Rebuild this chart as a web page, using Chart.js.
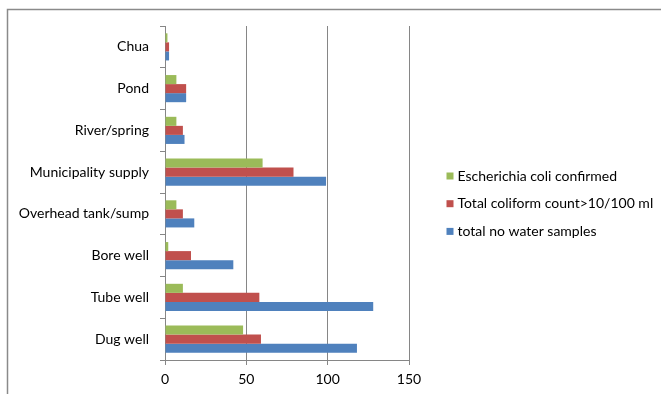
<!DOCTYPE html>
<html>
<head>
<meta charset="utf-8">
<script src="https://cdn.jsdelivr.net/npm/chart.js@4/dist/chart.umd.min.js"></script>
<style>
  html, body { margin: 0; padding: 0; background: #fff; }
  #wrap { width: 661px; height: 394px; position: relative; }
</style>
</head>
<body>
<div id="wrap"><canvas id="c" width="661" height="394"></canvas></div>
<script>
// Water sources sampled (top to bottom)
const sources = ['Chua', 'Pond', 'River/spring', 'Municipality supply',
  'Overhead tank/sump', 'Bore well', 'Tube well', 'Dug well'];

// Samples per source
const ecoliConfirmed = [1.5, 7, 7, 60, 7, 2, 11, 48];
const coliformOver10 = [2.5, 13, 11, 79, 11, 16, 58, 59];
const totalSamples   = [2.5, 13, 12, 99, 18, 42, 128, 118];

const seriesNames = ['Escherichia coli confirmed', 'Total coliform count>10/100 ml', 'total no water samples'];
const seriesColors = ['#9BBB59', '#C0504D', '#4F81BD'];

const xTicks = [0, 50, 100, 150];

const FONT = 'Lato, "Open Sans", sans-serif';
const FONT_SIZE = 14;
const axisGray = '#868686';

// Frame lines around the chart
const framePlugin = {
  id: 'frame',
  beforeDraw(chart) {
    const ctx = chart.ctx;
    ctx.save();
    ctx.strokeStyle = '#8a8a8a';
    ctx.lineWidth = 1.5;
    ctx.beginPath();
    ctx.moveTo(7.5, 394);
    ctx.lineTo(7.5, 9.5);
    ctx.lineTo(661, 9.5);
    ctx.stroke();
    ctx.restore();
  }
};

// Vertical legend to the right of the plot, squares before each label
const sideLegend = {
  id: 'sideLegend',
  afterDraw(chart) {
    const ctx = chart.ctx;
    const x = 446.5, y0 = 176, step = 27.7, box = 7;
    ctx.save();
    ctx.font = FONT_SIZE + 'px ' + FONT;
    ctx.textBaseline = 'middle';
    ctx.textAlign = 'left';
    chart.data.datasets.forEach((ds, i) => {
      const y = y0 + i * step;
      ctx.fillStyle = ds.backgroundColor;
      ctx.fillRect(x, y - box / 2, box, box);
      ctx.fillStyle = '#000';
      ctx.fillText(ds.label, x + 11, y);
    });
    ctx.restore();
  }
};

new Chart(document.getElementById('c'), {
  type: 'bar',
  data: {
    labels: sources,
    datasets: [
      { label: seriesNames[0], data: ecoliConfirmed, backgroundColor: seriesColors[0] },
      { label: seriesNames[1], data: coliformOver10, backgroundColor: seriesColors[1] },
      { label: seriesNames[2], data: totalSamples, backgroundColor: seriesColors[2] }
    ]
  },
  options: {
    indexAxis: 'y',
    responsive: false,
    animation: false,
    devicePixelRatio: 1,
    datasets: { bar: { categoryPercentage: 0.65, barPercentage: 1.0 } },
    layout: { padding: { left: 0, top: 26, right: 252, bottom: 0 } },
    plugins: {
      legend: { display: false },
      tooltip: { enabled: false }
    },
    scales: {
      x: {
        min: 0, max: 150,
        afterBuildTicks(scale) { scale.ticks = xTicks.map(v => ({ value: v })); },
        afterFit(scale) { scale.height = 34; },
        grid: {
          color: axisGray, lineWidth: 1, tickLength: 5,
          drawTicks: true
        },
        border: { color: axisGray },
        ticks: { color: '#000', font: { family: FONT, size: FONT_SIZE }, padding: 6 }
      },
      y: {
        afterFit(scale) { scale.width = 165; },
        grid: { drawOnChartArea: false, color: axisGray, tickLength: 5, offset: true },
        border: { color: axisGray },
        ticks: { color: '#000', font: { family: FONT, size: FONT_SIZE }, padding: 11 }
      }
    }
  },
  plugins: [framePlugin, sideLegend]
});
</script>
</body>
</html>
